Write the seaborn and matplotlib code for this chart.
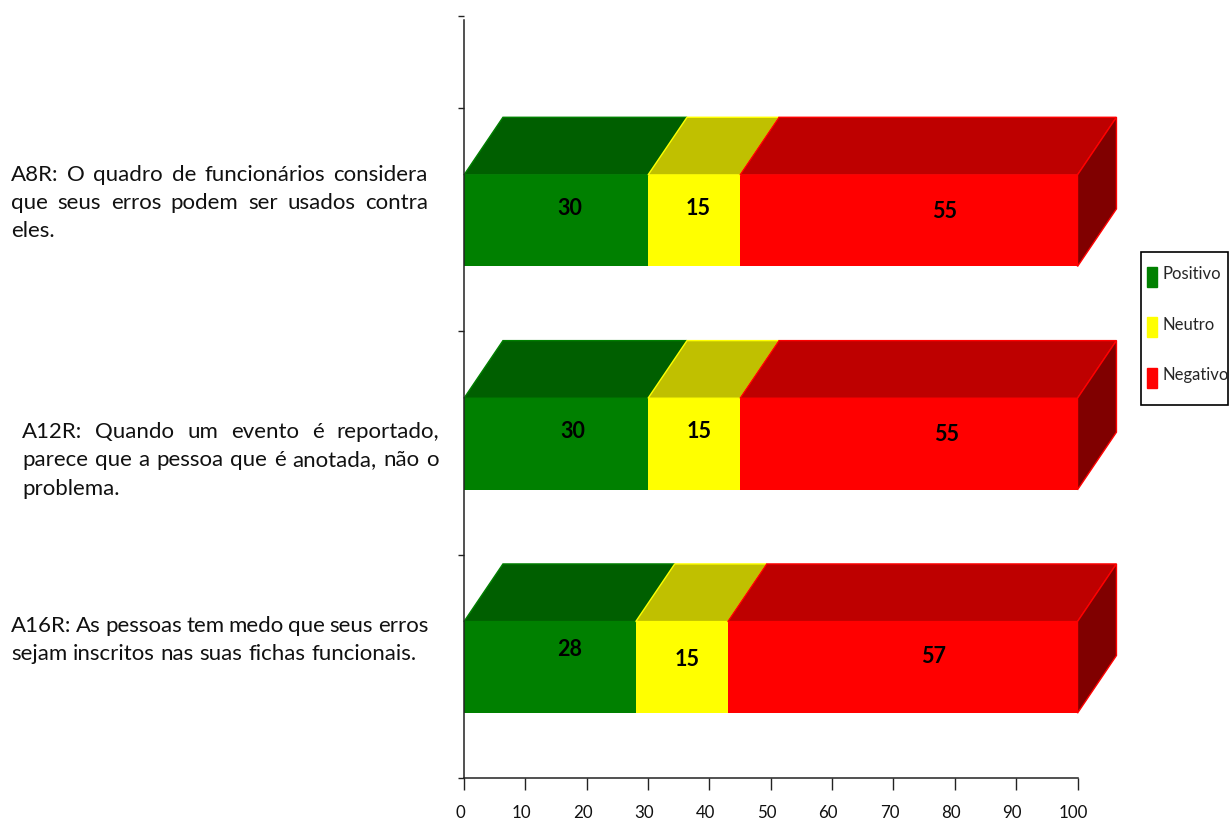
import matplotlib
matplotlib.use("Agg")
import matplotlib.pyplot as plt
import pandas as pd
import seaborn as sns
from matplotlib.legend_handler import HandlerPatch
from matplotlib.patches import Patch, Polygon, Rectangle
from matplotlib.transforms import ScaledTranslation

# Survey results, percent of answers per item
items = ["A8R", "A12R", "A16R"]
positivo = [30, 30, 28]
neutro = [15, 15, 15]
negativo = [55, 55, 57]
x_ticks = [0, 10, 20, 30, 40, 50, 60, 70, 80, 90, 100]

# Question wording: (left px, centre-line px, justified right edge or None, text)
question_lines = [
    (11, 175, 428, "A8R: O quadro de funcionários considera"),
    (11, 203, 428, "que seus erros podem ser usados contra"),
    (11, 231, None, "eles."),
    (22, 432, 439, "A12R: Quando um evento é reportado,"),
    (22, 460, 439, "parece que a pessoa que é anotada, não o"),
    (22, 489, None, "problema."),
    (11, 626, 428, "A16R: As pessoas tem medo que seus erros"),
    (11, 654, None, "sejam inscritos nas suas fichas funcionais."),
]

# Hand-placed value label shifts in px from the segment centre (right, up)
label_shifts = [
    [(14, 12), (4, 12), (36, 9)],
    [(17, 13), (5, 13), (38, 10)],
    [(20, 18), (5, 8), (31, 11)],
]

W, H = 1229, 821
DEPTH_X = 6.35    # box depth along the value axis
DEPTH_Y = 0.258   # box depth along the category axis
BAR_WIDTH = 0.41
BAND_SHIFT = 0.0045  # category bands sit a hair above the tick marks

front = {"Positivo": "#008000", "Neutro": "#FFFF00", "Negativo": "#FF0000"}
top = {"Positivo": "#005F00", "Neutro": "#C0C000", "Negativo": "#BE0000"}
side = "#800000"

sns.set_theme(style="ticks")
plt.rcParams["font.family"] = ["Lato", "DejaVu Sans"]

fig = plt.figure(figsize=(W / 100, H / 100), dpi=100, facecolor="white")
ax = fig.add_axes([464 / W, 1 - 778 / H, (1077.5 - 464) / W, (778 - 16) / H])

# Stacked segments are layered from the longest running total to the shortest
series = {"Positivo": positivo, "Neutro": neutro, "Negativo": negativo}
rows = []
for i, item in enumerate(items):
    total = 0
    for name, vals in series.items():
        rows.append({"item": item, "resposta": name, "start": total,
                     "valor": vals[i], "fim": total + vals[i]})
        total += vals[i]
df = pd.DataFrame(rows)

sns.barplot(data=df, x="fim", y="item", hue="resposta", order=items,
            hue_order=["Negativo", "Neutro", "Positivo"], palette=front,
            dodge=False, saturation=1, width=BAR_WIDTH, legend=False,
            linewidth=0, ax=ax)

ax.set_xlim(0, 100)
ax.set_ylim(2.5 - BAND_SHIFT, -0.912 - BAND_SHIFT)
ax.set_xlabel("")
ax.set_ylabel("")

# Top and end faces that give each stacked bar its box look
for i, item in enumerate(items):
    y_front = i - BAR_WIDTH / 2
    y_low = i + BAR_WIDTH / 2
    for _, r in df[df["item"] == item].iterrows():
        ax.add_patch(Polygon(
            [(r["start"], y_front), (r["fim"], y_front),
             (r["fim"] + DEPTH_X, y_front - DEPTH_Y),
             (r["start"] + DEPTH_X, y_front - DEPTH_Y)],
            closed=True, facecolor=top[r["resposta"]],
            edgecolor=front[r["resposta"]], linewidth=1.0,
            clip_on=False, zorder=3))
    ax.add_patch(Polygon(
        [(100, y_front), (100 + DEPTH_X, y_front - DEPTH_Y),
         (100 + DEPTH_X, y_low - DEPTH_Y), (100, y_low)],
        closed=True, facecolor=side, edgecolor=front["Negativo"],
        linewidth=1.0, clip_on=False, zorder=3))

    # Value labels
    seg = df[df["item"] == item].reset_index(drop=True)
    for j, r in seg.iterrows():
        dx, dy = label_shifts[i][j]
        ax.annotate(str(r["valor"]), xy=(r["start"] + r["valor"] / 2, i),
                    xytext=(dx * 0.72, dy * 0.72), textcoords="offset points",
                    ha="center", va="center", fontsize=15.5,
                    fontweight="bold", color="black", zorder=5)

# Axes
sns.despine(ax=ax, top=True, right=True)
for s in ("left", "bottom"):
    ax.spines[s].set_linewidth(1.1)
    ax.spines[s].set_color("#222222")
    ax.spines[s].set_zorder(6)
ax.spines["left"].set_bounds(2.5 - BAND_SHIFT, -0.897)
ax.set_yticks([v - BAND_SHIFT for v in (-0.912, -0.5, 0.5, 1.5, 2.5)])
ax.set_yticklabels([])
ax.tick_params(axis="y", length=4.3, width=1.0, color="#222222")
ax.set_xticks(x_ticks)
ax.set_xticklabels([str(v) for v in x_ticks])
ax.tick_params(axis="x", length=8.8, width=1.0, color="#222222", pad=10.5,
               labelsize=12.2, labelcolor="#111111")
shift = ScaledTranslation(-4 / 100, 0, fig.dpi_scale_trans)
for lab in ax.get_xticklabels():
    lab.set_transform(lab.get_transform() + shift)

# Question text, spread to the right edge where the paragraph is justified
FONT_SIZE = 16
renderer = fig.canvas.get_renderer()


def text_width(word):
    t = fig.text(0, 0, word, fontsize=FONT_SIZE)
    w = t.get_window_extent(renderer).width
    t.remove()
    return w


for left, centre, right, line in question_lines:
    words = line.split(" ")
    widths = [text_width(w) for w in words]
    if right is None:
        gap = text_width("a a") - text_width("a") * 2
    else:
        gap = (right - left - sum(widths)) / (len(words) - 1)
    x = left
    for word, w in zip(words, widths):
        fig.text(x / W, 1 - centre / H, word, fontsize=FONT_SIZE, va="center",
                 ha="left", color="#111111")
        x += w + gap


# Legend swatches hang a little lower than their labels
def lowered_swatch(legend, orig_handle, xdescent, ydescent, width, height, fontsize):
    return Rectangle((-xdescent, -ydescent - 3.3), width, 14.4)


fig.add_artist(Rectangle((1141 / W, 1 - 405 / H), 87 / W, 153 / H,
                         transform=fig.transFigure, facecolor="white",
                         edgecolor="black", linewidth=1.2))
handles = [Patch(facecolor=front[k], edgecolor=front[k], label=k)
           for k in ("Positivo", "Neutro", "Negativo")]
leg = fig.legend(handles=handles, loc="upper left",
                 bbox_to_anchor=(1147 / W, 1 - 265 / H), bbox_transform=fig.transFigure,
                 fontsize=12, frameon=False, borderpad=0, borderaxespad=0,
                 labelspacing=2.0, handlelength=0.6, handleheight=1.2,
                 handletextpad=0.36,
                 handler_map={Patch: HandlerPatch(patch_func=lowered_swatch)})

fig.savefig("out.png", dpi=100, facecolor="white")
